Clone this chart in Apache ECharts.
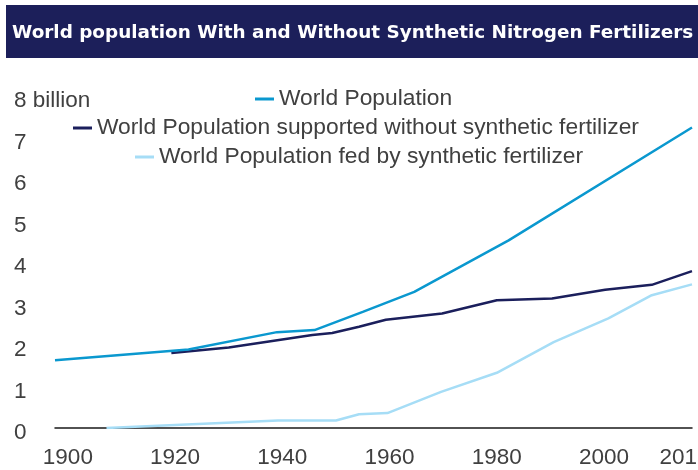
<!DOCTYPE html>
<html>
<head>
<meta charset="utf-8">
<script src="https://cdn.jsdelivr.net/npm/echarts@6/dist/echarts.min.js"></script>
<style>
  html, body { margin: 0; padding: 0; background: #fff; }
  #c1 { width: 698px; height: 470px; }
</style>
</head>
<body>
<div id="c1"></div>
<script>
// [year, billions]
var worldPopulation = [
  [1897.6, 1.63], [1922.5, 1.89], [1939, 2.31], [1946, 2.36],
  [1955, 2.80], [1964.6, 3.28], [1982.2, 4.52], [2016.4, 7.24]
]
var withoutFertilizer = [
  [1919.3, 1.81], [1930, 1.94], [1945.6, 2.24], [1949.3, 2.29],
  [1954.3, 2.44], [1959.3, 2.61], [1969.8, 2.76], [1980, 3.08],
  [1990.3, 3.12], [2000.2, 3.33], [2008.9, 3.45], [2016.4, 3.78]
]
var fedByFertilizer = [
  [1907.2, 0], [1939.2, 0.18], [1950, 0.18], [1954.3, 0.33],
  [1959.6, 0.36], [1969.6, 0.87], [1980, 1.33], [1990.6, 2.07],
  [2000.8, 2.64], [2008.9, 3.20], [2016.4, 3.46]
]
var yearTicks = [1900, 1920, 1940, 1960, 1980, 2000, 2015]
var seriesNames = [
  'World Population',
  'World Population supported without synthetic fertilizer',
  'World Population fed by synthetic fertilizer'
]

var myChart = echarts.init(document.getElementById('c1'))
var textColor = '#404040'
var font = 'Liberation Sans'

var legendBase = {
  orient: 'horizontal',
  icon: 'rect',
  itemWidth: 19,
  itemHeight: 3,
  padding: 0,
  textStyle: { fontFamily: font, fontSize: 22.8, color: textColor, lineHeight: 24 }
}

var option = {
  animation: false,
  backgroundColor: '#fff',
  color: ['#0a98cf', '#1b1f5c', '#a6ddf6'],
  graphic: [
    {
      type: 'rect',
      z: 0,
      shape: { x: 6, y: 5, width: 692, height: 53 },
      style: { fill: '#1c1f5a' }
    }
  ],
  title: {
    text: 'World population With and Without Synthetic Nitrogen Fertilizers',
    left: 12,
    top: 21,
    z: 10,
    padding: 0,
    textStyle: {
      fontFamily: 'DejaVu Sans',
      fontWeight: 'bold',
      fontSize: 18.4,
      lineHeight: 24,
      color: '#fff'
    }
  },
  legend: [
    Object.assign({}, legendBase, { data: [seriesNames[0]], left: 255, top: 87 }),
    Object.assign({}, legendBase, { data: [seriesNames[1]], left: 73, top: 116 }),
    Object.assign({}, legendBase, { data: [seriesNames[2]], left: 135, top: 145 })
  ],
  grid: {
    left: 55,
    right: 6,
    top: 96,
    bottom: 42,
    outerBoundsMode: 'none'
  },
  xAxis: {
    type: 'value',
    min: 1897.6,
    max: 2016.4,
    axisLine: { show: true, lineStyle: { color: '#1a1a1a', width: 1.5 } },
    axisTick: { show: false },
    splitLine: { show: false },
    axisLabel: {
      customValues: yearTicks,
      margin: 18,
      fontFamily: font,
      fontSize: 22.5,
      color: textColor,
      hideOverlap: false,
      formatter: function (v) {
        return String(v)
      }
    }
  },
  yAxis: {
    type: 'value',
    min: 0,
    max: 8,
    interval: 1,
    axisLine: { show: false },
    axisTick: { show: false },
    splitLine: { show: false },
    axisLabel: {
      align: 'left',
      verticalAlign: 'top',
      margin: 41,
      padding: [-6, 0, 0, 0],
      fontFamily: font,
      fontSize: 22.5,
      lineHeight: 22,
      color: textColor,
      formatter: function (v) {
        return v === 8 ? '8 billion' : v
      }
    }
  },
  series: [
    {
      name: seriesNames[0],
      type: 'line',
      data: worldPopulation,
      showSymbol: false,
      lineStyle: { width: 2.5 },
      z: 3
    },
    {
      name: seriesNames[1],
      type: 'line',
      data: withoutFertilizer,
      showSymbol: false,
      lineStyle: { width: 2.5 },
      z: 2
    },
    {
      name: seriesNames[2],
      type: 'line',
      data: fedByFertilizer,
      showSymbol: false,
      lineStyle: { width: 2.5 },
      z: 1
    }
  ]
}
option && myChart.setOption(option)
</script>
</body>
</html>
